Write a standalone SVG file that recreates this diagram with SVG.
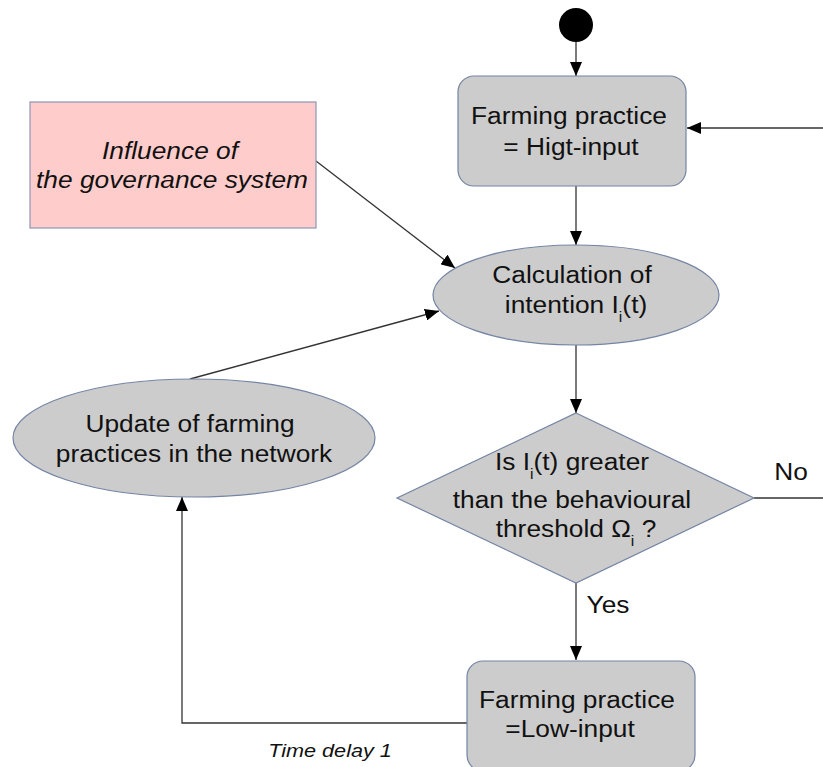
<svg xmlns="http://www.w3.org/2000/svg" width="823" height="767" viewBox="0 0 823 767">
<style>
.node{fill:#cccccc;stroke:#7484a4;stroke-width:1.2}
.pink{fill:#ffcccc;stroke:#8d96b8;stroke-width:1.2}
.t{font-family:"Liberation Sans",Arial,sans-serif;font-size:23.5px;fill:#111;text-anchor:middle}
.it{font-style:italic}
.sub{font-size:14px}
.c{fill:none;stroke:#333;stroke-width:1.3}
</style>
<defs>
<marker id="ah" markerWidth="14" markerHeight="12" refX="14" refY="6" orient="auto" markerUnits="userSpaceOnUse">
<path d="M0,0 L14,6 L0,12 z" fill="#000"/>
</marker>
</defs>
<g id="connectors">
<line class="c" x1="576" y1="42" x2="576" y2="76" marker-end="url(#ah)"/>
<line class="c" x1="823" y1="128" x2="687" y2="128" marker-end="url(#ah)"/>
<line class="c" x1="576" y1="186" x2="576" y2="245" marker-end="url(#ah)"/>
<line class="c" x1="316" y1="161" x2="455" y2="268" marker-end="url(#ah)"/>
<line class="c" x1="576" y1="345" x2="576" y2="413" marker-end="url(#ah)"/>
<line class="c" x1="754" y1="498" x2="823" y2="498"/>
<line class="c" x1="576" y1="583" x2="576" y2="660" marker-end="url(#ah)"/>
<polyline class="c" points="467,723 182,723 182,497" marker-end="url(#ah)"/>
<line class="c" x1="190" y1="379" x2="439" y2="311" marker-end="url(#ah)"/>
<text class="t" transform="matrix(1.12 0 0 1 791 480)">No</text>
<text class="t" transform="matrix(1.12 0 0 1 608 613)">Yes</text>
<text class="t it" style="font-size:19px" transform="matrix(1.14 0 0 1 330 757)">Time delay 1</text>
</g>
<g id="start">
<circle cx="576" cy="25" r="17" fill="#000"/>
</g>
<g id="high-input">
<rect class="node" x="458" y="76" width="228" height="110" rx="16"/>
<text class="t" transform="matrix(1.12 0 0 1 569 124)">Farming practice</text>
<text class="t" transform="matrix(1.12 0 0 1 571 155)">= Higt-input</text>
</g>
<g id="governance">
<rect class="pink" x="30" y="102" width="286" height="126"/>
<text class="t it" transform="matrix(1.12 0 0 1 170 159)">Influence of</text>
<text class="t it" transform="matrix(1.12 0 0 1 172 188)">the governance system</text>
</g>
<g id="intention">
<ellipse class="node" cx="576" cy="295" rx="143" ry="50"/>
<text class="t" transform="matrix(1.12 0 0 1 572 283)">Calculation of</text>
<text class="t" transform="matrix(1.12 0 0 1 576 313)">intention I<tspan class="sub" dy="9">i</tspan><tspan dy="-9">(t)</tspan></text>
</g>
<g id="decision">
<polygon class="node" points="576,413 754,498 576,583 397,498"/>
<text class="t" transform="matrix(1.12 0 0 1 572 470)">Is I<tspan class="sub" dy="9">i</tspan><tspan dy="-9">(t) greater</tspan></text>
<text class="t" transform="matrix(1.12 0 0 1 572 508)">than the behavioural</text>
<text class="t" transform="matrix(1.12 0 0 1 576 537)">threshold Ω<tspan class="sub" dy="9">i</tspan><tspan dy="-9"> ?</tspan></text>
</g>
<g id="low-input">
<rect class="node" x="467" y="661" width="228" height="110" rx="16"/>
<text class="t" transform="matrix(1.12 0 0 1 577 708)">Farming practice</text>
<text class="t" transform="matrix(1.12 0 0 1 570 737)">=Low-input</text>
</g>
<g id="update">
<ellipse class="node" cx="194" cy="438" rx="181" ry="59"/>
<text class="t" transform="matrix(1.12 0 0 1 190 432)">Update of farming</text>
<text class="t" transform="matrix(1.12 0 0 1 194 462)">practices in the network</text>
</g>
</svg>
